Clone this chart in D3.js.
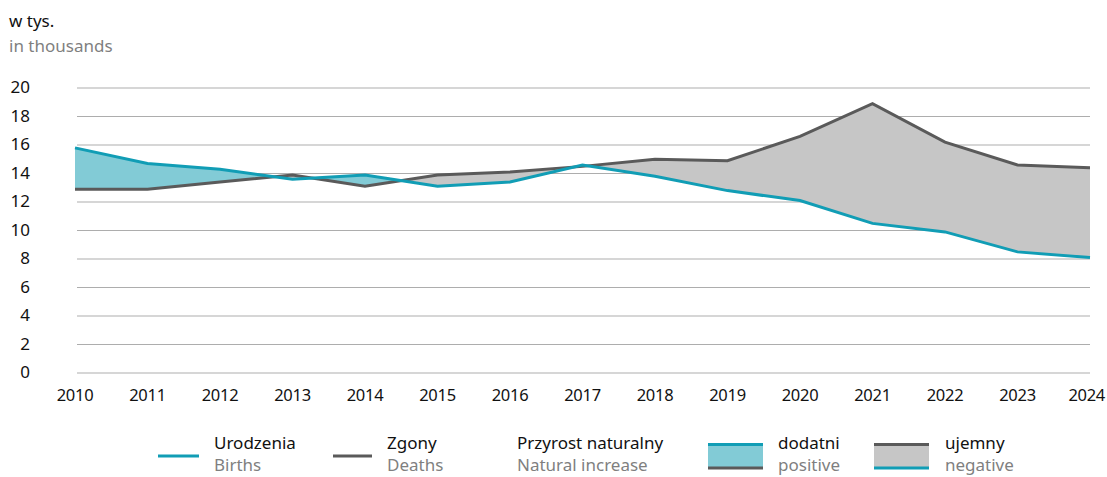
<!DOCTYPE html>
<meta charset="utf-8">
<style>
body { margin: 0; background: #fff; }
text { font-family: "Noto Sans", sans-serif; }
</style>
<svg width="1107" height="477"></svg>
<script src="https://d3js.org/d3.v7.min.js"></script>
<script>

var years = [2010, 2011, 2012, 2013, 2014, 2015, 2016, 2017, 2018, 2019, 2020, 2021, 2022, 2023, 2024];
var births = [15.8, 14.7, 14.3, 13.6, 13.9, 13.1, 13.4, 14.6, 13.8, 12.8, 12.1, 10.5, 9.9, 8.5, 8.1];
var deaths = [12.9, 12.9, 13.4, 13.9, 13.1, 13.9, 14.1, 14.5, 15.0, 14.9, 16.6, 18.9, 16.2, 14.6, 14.4];
var yTicks = [0, 2, 4, 6, 8, 10, 12, 14, 16, 18, 20];

var teal = "#119db5", grey = "#5a5a5a", tealFill = "#82cbd6", greyFill = "#c6c6c6";

var svg = d3.select("svg");

var x = d3.scaleLinear().domain([2010, 2024]).range([75, 1090]);
var y = d3.scaleLinear().domain([0, 20]).range([373, 88]);

var data = years.map(function(d, i) { return {year: d, b: births[i], d: deaths[i]}; });

// gridlines
svg.append("g").selectAll("line")
  .data(yTicks).enter().append("line")
  .attr("x1", 77).attr("x2", 1090)
  .attr("y1", function(d) { return y(d); })
  .attr("y2", function(d) { return y(d); })
  .attr("stroke", "#adadad").attr("stroke-width", 1.2);

svg.append("g").selectAll("text")
  .data(yTicks).enter().append("text")
  .attr("x", 30).attr("y", function(d) { return y(d) + 5; })
  .attr("text-anchor", "end")
  .attr("font-size", "17px").attr("fill", "#111")
  .text(function(d) { return d; });

svg.append("g").selectAll("text")
  .data(years).enter().append("text")
  .attr("x", function(d) { return d === 2024 ? 1105 : x(d); }).attr("y", 401)
  .attr("text-anchor", function(d) { return d === 2024 ? "end" : "middle"; })
  .attr("font-size", "16.5px").attr("fill", "#111")
  .attr("letter-spacing", "-0.3px")
  .text(function(d) { return d; });

// difference fill
var defs = svg.append("defs");
defs.append("clipPath").attr("id", "above")
  .append("path").datum(data)
  .attr("d", d3.area().x(function(d) { return x(d.year); }).y0(0).y1(function(d) { return y(d.d); }));
defs.append("clipPath").attr("id", "below")
  .append("path").datum(data)
  .attr("d", d3.area().x(function(d) { return x(d.year); }).y0(477).y1(function(d) { return y(d.d); }));

var between = d3.area()
  .x(function(d) { return x(d.year); })
  .y0(function(d) { return y(d.d); })
  .y1(function(d) { return y(d.b); });

svg.append("path").datum(data).attr("clip-path", "url(#above)")
  .attr("fill", tealFill).attr("d", between);
svg.append("path").datum(data).attr("clip-path", "url(#below)")
  .attr("fill", greyFill).attr("d", between);

var line = function(key) {
  return d3.line().x(function(d) { return x(d.year); }).y(function(d) { return y(d[key]); });
};

svg.append("path").datum(data).attr("fill", "none")
  .attr("stroke", grey).attr("stroke-width", 3).attr("d", line("d"));
svg.append("path").datum(data).attr("fill", "none")
  .attr("stroke", teal).attr("stroke-width", 3).attr("d", line("b"));

// unit label
svg.append("text").attr("x", 9).attr("y", 27).attr("font-size", "17px").attr("fill", "#111").text("w tys.");
svg.append("text").attr("x", 9).attr("y", 52).attr("font-size", "17px").attr("fill", "#7f7f7f").text("in thousands");

// legend
var lg = svg.append("g");
function legendText(xp, pl, en) {
  lg.append("text").attr("x", xp).attr("y", 449).attr("font-size", "17px").attr("fill", "#111").text(pl);
  lg.append("text").attr("x", xp).attr("y", 471).attr("font-size", "17px").attr("fill", "#7f7f7f").text(en);
}
lg.append("line").attr("x1", 158).attr("x2", 199).attr("y1", 456).attr("y2", 456)
  .attr("stroke", teal).attr("stroke-width", 3);
legendText(214, "Urodzenia", "Births");
lg.append("line").attr("x1", 333).attr("x2", 372).attr("y1", 456).attr("y2", 456)
  .attr("stroke", grey).attr("stroke-width", 3);
legendText(387, "Zgony", "Deaths");
legendText(517, "Przyrost naturalny", "Natural increase");

function swatch(xp, fill, top, bottom) {
  lg.append("rect").attr("x", xp).attr("y", 443).attr("width", 55).attr("height", 26).attr("fill", fill);
  lg.append("line").attr("x1", xp).attr("x2", xp + 55).attr("y1", 444.5).attr("y2", 444.5)
    .attr("stroke", top).attr("stroke-width", 3);
  lg.append("line").attr("x1", xp).attr("x2", xp + 55).attr("y1", 468).attr("y2", 468)
    .attr("stroke", bottom).attr("stroke-width", 3);
}
swatch(708, tealFill, teal, grey);
legendText(778, "dodatni", "positive");
swatch(874, greyFill, grey, teal);
legendText(945, "ujemny", "negative");

</script>
